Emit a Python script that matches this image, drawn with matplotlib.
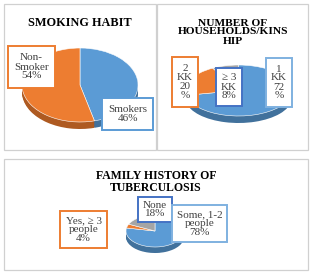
import matplotlib
matplotlib.use("Agg")
import matplotlib.pyplot as plt
from matplotlib.patches import Rectangle

W, H = 312, 275

# ---- data ----
smoking_labels = ["Smokers\n46%", "Non-\nSmoker\n54%"]
smoking_values = [46, 54]
house_labels = ["1\nKK\n72\n%", "2\nKK\n20\n%", "\u2265 3\nKK\n8%"]
house_values = [72, 20, 8]
family_labels = ["Some, 1-2\npeople\n78%", "Yes, \u2265 3\npeople\n4%", "None\n18%"]
family_values = [78, 4, 18]
titles = ["SMOKING HABIT", "NUMBER OF\nHOUSEHOLDS/KINS\nHIP", "FAMILY HISTORY OF\nTUBERCULOSIS"]

BLUE, ORANGE, GRAY = "#5B9BD5", "#ED7D31", "#A5A5A5"
DBLUE, DORANGE, DGRAY = "#41719C", "#AE5A21", "#7C7C7C"

plt.rcParams['font.family'] = ['Liberation Serif', 'DejaVu Serif']

fig = plt.figure(figsize=(W / 100, H / 100), dpi=100)
fig.patch.set_facecolor("white")


def fx(x):
    return x / W


def fy(y):
    return 1 - y / H


def panel(x0, y0, x1, y1):
    fig.patches.append(Rectangle((fx(x0), fy(y1)), fx(x1 - x0), (y1 - y0) / H,
                                 transform=fig.transFigure, facecolor="white",
                                 edgecolor="#D0D0D0", lw=0.9, zorder=-5))


def pie3d(values, colors, dcolors, x0, x1, y0, y1, depth_px):
    w = x1 - x0
    h = y1 - y0
    dd = depth_px / (h / 2)
    ax = fig.add_axes([fx(x0), fy(y1 + depth_px), w / W, (h + depth_px) / H])
    ax.set_zorder(1)
    ax.patch.set_alpha(0)
    n = 8
    for k in range(n, 0, -1):
        off = dd * k / n
        ax.pie(values, colors=dcolors, startangle=90, counterclock=False,
               center=(0, -off), wedgeprops=dict(linewidth=0))
    ax.pie(values, colors=colors, startangle=90, counterclock=False,
           wedgeprops=dict(linewidth=0.4, edgecolor="white"))
    ax.set_aspect("auto")
    ax.set_xlim(-1, 1)
    ax.set_ylim(-1 - dd, 1)
    ax.axis("off")
    return ax


def box(text, x0, y0, x1, y1, ec, fs=8):
    fig.patches.append(Rectangle((fx(x0), fy(y1)), fx(x1 - x0), (y1 - y0) / H,
                                 transform=fig.transFigure, facecolor="white",
                                 edgecolor=ec, lw=1.4, zorder=5))
    fig.text(fx((x0 + x1) / 2), fy((y0 + y1) / 2), text, ha="center", va="center",
             fontsize=fs, color="#404040", zorder=6, linespacing=1.0)


# panels
panel(4, 4, 156, 150)
panel(157, 4, 308, 150)
panel(4, 159, 308, 270)

# panel 1
fig.text(fx(80), fy(23), titles[0], ha="center", va="center", fontsize=8.8,
         fontweight="bold", color="black")
pie3d(smoking_values, [BLUE, ORANGE], [DBLUE, DORANGE], 22, 138, 48, 122, 7)
box(smoking_labels[1], 8, 46, 55, 88, ORANGE)
box(smoking_labels[0], 102, 98, 153, 130, BLUE)

# panel 2
fig.text(fx(233), fy(32), titles[1], ha="center", va="center", fontsize=8.2,
         fontweight="bold", color="black", linespacing=1.0)
pie3d(house_values, [BLUE, ORANGE, GRAY], [DBLUE, DORANGE, DGRAY], 185, 292, 65, 116, 7)
box(house_labels[1], 172, 57, 198, 107, ORANGE)
box(house_labels[2], 216, 68, 242, 106, "#4472C4")
box(house_labels[0], 266, 58, 292, 107, "#7FB1E0")

# panel 3
fig.text(fx(156), fy(182), titles[2], ha="center", va="center", fontsize=8.5,
         fontweight="bold", color="black", linespacing=1.0)
pie3d(family_values, [BLUE, ORANGE, GRAY], [DBLUE, DORANGE, DGRAY], 126, 184, 215, 247, 6)
box(family_labels[1], 60, 211, 107, 248, ORANGE)
box(family_labels[2], 138, 197, 172, 222, "#4472C4")
box(family_labels[0], 172, 205, 227, 242, "#7FB1E0")

fig.savefig("out.png", dpi=100, facecolor="white")
